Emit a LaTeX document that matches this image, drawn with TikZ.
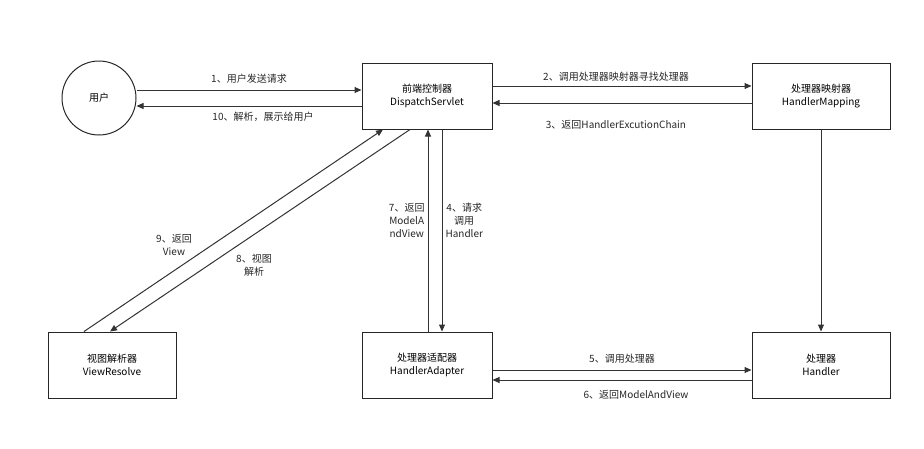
\documentclass[tikz,border=0pt]{standalone}
\usepackage{fontspec}
\setmainfont{Noto Sans CJK SC}
\usetikzlibrary{arrows.meta}
\begin{document}
\begin{tikzpicture}[x=1pt,y=-1pt,
  box/.style={draw=black!85,line width=1pt,minimum width=130pt,minimum height=66pt,align=center,font=\fontsize{10}{13}\selectfont,inner sep=0pt},
  arr/.style={draw=black!80,line width=1pt,-{Triangle[length=7pt,width=6pt]}},
  lab/.style={font=\fontsize{10}{13}\selectfont,align=center,inner sep=1pt,text=black!85}]
\useasboundingbox (0,0) rectangle (924,448);
\node[draw=black!85,line width=1pt,circle,minimum size=74pt,font=\fontsize{10}{13}\selectfont] (u) at (99,98) {用户};
\node[box] (ds) at (427,96) {前端控制器\\DispatchServlet};
\node[box,minimum width=138pt] (hm) at (821,96) {处理器映射器\\HandlerMapping};
\node[box,minimum width=128pt] (vr) at (112,365) {视图解析器\\ViewResolve};
\node[box] (ha) at (427,365) {处理器适配器\\HandlerAdapter};
\node[box,minimum width=138pt] (h) at (821,365) {处理器\\Handler};
\draw[arr] (u.east |- 0,90) -- (ds.west |- 0,90) node[lab,midway,above=5pt]{1、用户发送请求};
\draw[arr] (ds.west |- 0,106) -- (u.east |- 0,106) node[lab,midway,below=5pt,xshift=14pt]{10、解析，展示给用户};
\draw[arr] (ds.east |- 0,86) -- (hm.west |- 0,86) node[lab,midway,above=3pt,xshift=-6pt]{2、调用处理器映射器寻找处理器};
\draw[arr] (hm.west |- 0,103) -- (ds.east |- 0,103) node[lab,midway,below=16pt,xshift=-6pt]{3、返回HandlerExcutionChain};
\draw[arr] (hm.south) -- (h.north);
\draw[arr] (ds.south -| 442,0) -- (ha.north -| 442,0) node[lab,pos=0.45,right=2pt]{4、请求\\调用\\Handler};
\draw[arr] (ha.north -| 428,0) -- (ds.south -| 428,0) node[lab,pos=0.55,left=2pt]{7、返回\\ModelA\\ndView};
\draw[arr] (ha.east |- 0,370) -- (h.west |- 0,370) node[lab,midway,above=5pt]{5、调用处理器};
\draw[arr] (h.west |- 0,380) -- (ha.east |- 0,380) node[lab,midway,below=9pt,xshift=14pt]{6、返回ModelAndView};
\draw[arr] (vr.north -| 84,0) -- (ds.south -| 383,0);
\draw[arr] (ds.south -| 410,0) -- (vr.north -| 110,0);
\node[lab] (l9) at (174,245) {9、返回\\View};
\node[lab] (l8) at (254,265) {8、视图\\解析};
\end{tikzpicture}
\end{document}
